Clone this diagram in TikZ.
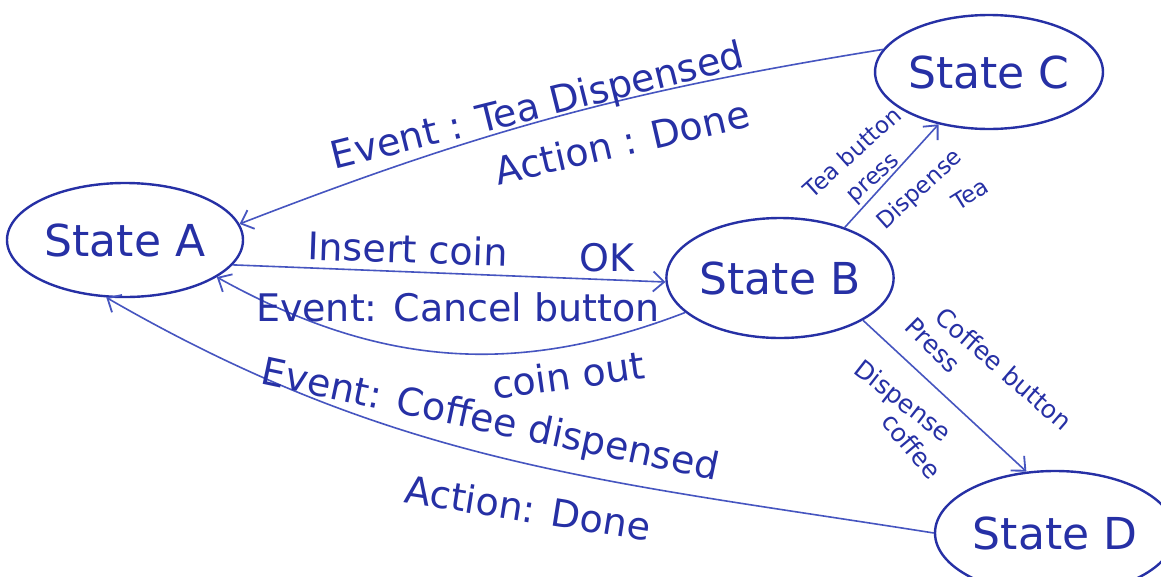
\documentclass[tikz,border=0pt]{standalone}
\usepackage{fontspec}
\setmainfont{DejaVu Sans}
\usetikzlibrary{shapes.geometric,arrows.meta}
\definecolor{ink}{RGB}{38,48,165}
\definecolor{wire}{RGB}{70,85,192}
\begin{document}
\begin{tikzpicture}[x=1pt,y=1pt,
  state/.style={draw=ink, line width=2.4pt, ellipse, inner sep=0pt, text=ink,
    font=\fontsize{44}{46}\selectfont},
  wire/.style={draw=wire, line width=1.6pt,
    -{Straight Barb[length=11pt,width=20pt,line width=1.8pt]}},
  lbl/.style={text=ink, inner sep=0pt, font=\fontsize{38}{40}\selectfont},
  tiny/.style={text=ink, inner sep=0pt, font=\fontsize{23}{25}\selectfont},
  small/.style={text=ink, inner sep=0pt, font=\fontsize{25}{27}\selectfont}]
\path[fill=white] (0,0) rectangle (1161,-576);
\useasboundingbox (0,0) rectangle (1161,-576);

% states
\node[state, minimum width=236pt, minimum height=114pt] (A) at (125,-240) {State A};
\node[state, minimum width=220pt, minimum height=120pt] (B) at (780,-278) {State B};
\node[state, minimum width=218pt, minimum height=114pt] (C) at (989,-72) {State C};
\node[state, minimum width=240pt, minimum height=124pt] (D) at (1055,-533) {State D};

% transitions
\draw[wire] (C.168) to[bend right=6] (A.8);
\draw[wire] (A.-13) -- (B.182);
\draw[wire] (B.200) to[out=201,in=-29] (A.-22);
\draw[wire] (B.38) -- (C.226);
\draw[wire] (B.-27) -- (D.115);
\draw[wire] (D.180) to[out=171,in=-30] (A.-108);

% transition labels
\node[lbl, rotate=14] (teaev) at (538,-108) {Event : Tea Dispensed};
\node[lbl, rotate=13] (teaact) at (622,-142) {Action : Done};
\node[lbl, rotate=-2] (ins) at (408,-249) {Insert coin};
\node[lbl] (ok) at (607,-258) {OK};
\node[lbl] (cancel) at (458,-307) {Event: Cancel button};
\node[lbl, rotate=8] (cout) at (568,-375) {coin out};
\node[lbl, rotate=-12] (cofev) at (490,-422) {Event: Coffee dispensed};
\node[lbl, rotate=-9] (cofact) at (528,-508) {Action: Done};
% tea side
\node[tiny, rotate=42] (tb1) at (852,-152) {Tea button};
\node[tiny, rotate=42] (tb2) at (875,-180) {press};
\node[tiny, rotate=42] (tb3) at (920,-190) {Dispense};
\node[tiny, rotate=32] (tb4) at (970,-194) {Tea};
% coffee side
\node[small, rotate=-41] (cb1) at (1004,-369) {Coffee button};
\node[small, rotate=-45] (cb2) at (933,-345) {Press};
\node[small, rotate=-38] (cb3) at (902,-402) {Dispense};
\node[small, rotate=-50] (cb4) at (912,-446) {coffee};
\end{tikzpicture}
\end{document}
